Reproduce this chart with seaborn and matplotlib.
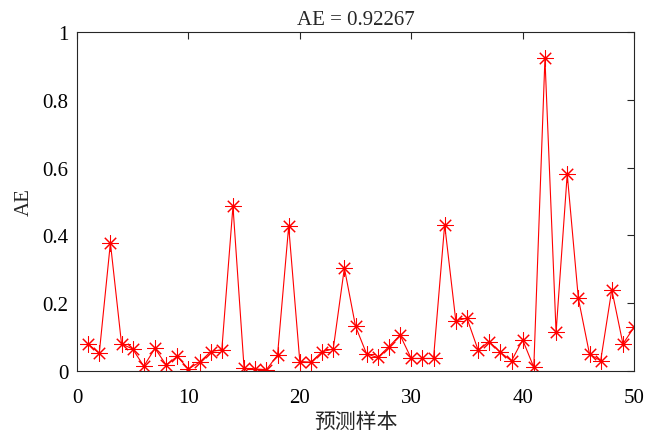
import matplotlib
matplotlib.use("Agg")
import numpy as np
import pandas as pd
import matplotlib.pyplot as plt
import seaborn as sns

# Sample index and absolute error for each predicted sample
samples = list(range(1, 51))
ae = [0.080, 0.052, 0.378, 0.080, 0.065, 0.014, 0.067, 0.018, 0.043, 0.006,
      0.026, 0.057, 0.063, 0.486, 0.008, 0.006, 0.004, 0.047, 0.427, 0.028,
      0.026, 0.057, 0.065, 0.304, 0.132, 0.050, 0.040, 0.072, 0.106, 0.037,
      0.037, 0.037, 0.432, 0.148, 0.156, 0.062, 0.087, 0.055, 0.030, 0.092,
      0.011, 0.92267, 0.114, 0.581, 0.214, 0.050, 0.030, 0.240, 0.080, 0.129]
xticks = [0, 10, 20, 30, 40, 50]
yticks = [0, 0.2, 0.4, 0.6, 0.8, 1]
ytick_labels = ['0', '0.2', '0.4', '0.6', '0.8', '1']

df = pd.DataFrame({'sample': samples, 'AE': ae})

sns.set_style('white')
plt.rcParams['font.family'] = ['Liberation Serif', 'Noto Sans CJK SC']

fig = plt.figure(figsize=(6.49, 4.35), dpi=100)
ax = fig.add_axes([0.1186, 0.1448, 0.8584, 0.7792])

sns.lineplot(data=df, x='sample', y='AE', ax=ax, color='red', linewidth=0.8,
             marker=(8, 2, 0), markersize=11.5, markeredgecolor='red',
             markeredgewidth=0.75)

ax.set_xlim(0, 50)
ax.set_ylim(0, 1)
ax.set_xticks(xticks)
ax.set_yticks(yticks)
ax.set_yticklabels(ytick_labels)
ax.tick_params(direction='in', top=True, right=True, length=5, width=0.8,
               labelsize=15, colors='#262626', labelcolor='black', pad=6)
ax.tick_params(axis='x', pad=12)
for s in ax.spines.values():
    s.set_color('#262626')
    s.set_linewidth(0.8)

ax.set_title('AE = 0.92267', fontsize=15, pad=6)
ax.set_xlabel('预测样本', fontsize=15, family=['Noto Sans CJK SC'], labelpad=2)
ax.set_ylabel('AE', fontsize=15, labelpad=6)

fig.savefig('out.png', dpi=100)
